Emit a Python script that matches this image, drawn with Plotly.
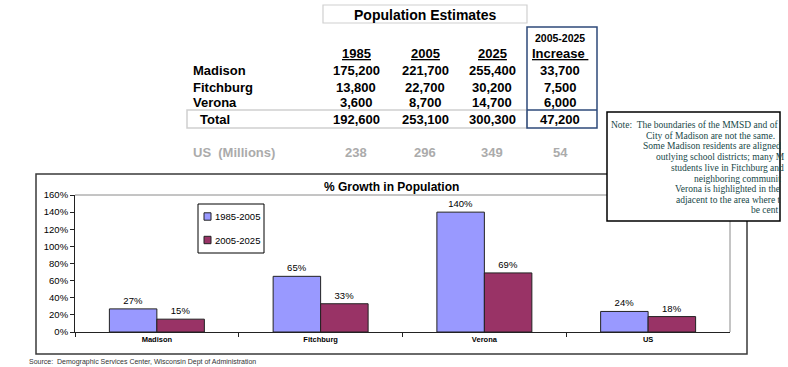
import plotly.graph_objects as go

W, H = 788, 367


def px(x):
    return x / W


def py(y):
    return 1 - y / H


# ---------------- data ----------------
table_title = "Population Estimates"
years = ["1985", "2005", "2025"]
increase_header = ["2005-2025", "Increase"]
places = ["Madison", "Fitchburg", "Verona"]
pop_1985 = [175200, 13800, 3600]
pop_2005 = [221700, 22700, 8700]
pop_2025 = [255400, 30200, 14700]
pop_increase = [33700, 7500, 6000]
total_label = "Total"
totals = [192600, 253100, 300300, 47200]
us_label = "US  (Millions)"
us_values = [238, 296, 349, 54]

chart_title = "% Growth in Population"
categories = ["Madison", "Fitchburg", "Verona", "US"]
series_names = ["1985-2005", "2005-2025"]
growth_1985_2005 = [27, 65, 140, 24]
growth_2005_2025 = [15, 33, 69, 18]
y_ticks = [0, 20, 40, 60, 80, 100, 120, 140, 160]
y_tick_labels = [f"{v}%" for v in y_ticks]

source_text = "Source:  Demographic Services Center, Wisconsin Dept of Administration"
note_lines = [
    "Note:  The boundaries of the MMSD and of",
    "City of Madison are not the same.",
    "Some Madison residents are aligned",
    "outlying school districts; many M",
    "students live in Fitchburg and",
    "neighboring communit",
    "Verona is highlighted in the",
    "adjacent to the area where t",
    "be cent",
]

# ---------------- style ----------------
SANS = "Arial, Liberation Sans, sans-serif"
SERIF = "Times New Roman, Liberation Serif, serif"
BLUE = "#9999FF"
MAROON = "#993366"
NOTE_COLOR = "#174848"

fig = go.Figure()
for vals, name, col in [(growth_1985_2005, series_names[0], BLUE),
                        (growth_2005_2025, series_names[1], MAROON)]:
    fig.add_trace(go.Bar(
        x=categories, y=vals, name=name,
        marker=dict(color=col, line=dict(color="#222222", width=1)),
        text=[f"{v}%" for v in vals], textposition="outside", cliponaxis=False,
        textfont=dict(family=SANS, size=9.5, color="black"), showlegend=False,
    ))

annotations = []
shapes = []


def text(x, y, s, size=13, bold=True, color="black", anchor="center", family=SANS):
    annotations.append(dict(
        xref="paper", yref="paper", x=px(x), y=py(y), text=s, showarrow=False,
        xanchor=anchor, yanchor="middle",
        font=dict(family=family, size=size, color=color, weight="bold" if bold else "normal"),
    ))


def rect(x0, y0, x1, y1, color, width=1, fill=None, layer="below"):
    shapes.append(dict(type="rect", xref="paper", yref="paper",
                       x0=px(x0), y0=py(y0), x1=px(x1), y1=py(y1),
                       line=dict(color=color, width=width),
                       fillcolor=fill if fill else "rgba(0,0,0,0)", layer=layer))


def line(x0, y0, x1, y1, color, width=1, layer="below"):
    shapes.append(dict(type="line", xref="paper", yref="paper",
                       x0=px(x0), y0=py(y0), x1=px(x1), y1=py(y1),
                       line=dict(color=color, width=width), layer=layer))


# ---------------- table ----------------
col_x = [356, 425, 492, 560]
row_y = [70.5, 87, 102]
total_y = 119.5
us_y = 152

rect(323, 5, 527, 23, "#d0d0d0", 1.2)
text(425, 15, table_title, size=14)

for cx, yr in zip(col_x[:3], years):
    text(cx, 54, f"<u>{yr}</u>", size=13)
text(col_x[3], 38, increase_header[0], size=10.5)
text(col_x[3], 54, f"<u>{increase_header[1]} </u>", size=13)

for i, place in enumerate(places):
    text(191, row_y[i], place, anchor="left")
    vals = [pop_1985[i], pop_2005[i], pop_2025[i], pop_increase[i]]
    for cx, v in zip(col_x, vals):
        text(cx, row_y[i], f"{v:,}")

rect(187, 110, 527, 128, "#cfcfcf", 1.5)
text(198, total_y, total_label, anchor="left")
for cx, v in zip(col_x, totals):
    text(cx, total_y, f"{v:,}")

rect(527, 27, 597, 128, "#2e4a7a", 1.5)
line(527, 110, 597, 110, "#2e4a7a", 1.5)

GRAY = "#ababab"
text(191, us_y, us_label, color=GRAY, anchor="left")
for cx, v in zip(col_x, us_values):
    text(cx, us_y, f"{v:,}", color=GRAY)

# ---------------- chart frame ----------------
rect(36, 174, 747, 354, "#3a3a3a", 1.5)
line(75, 195, 730, 195, "#8a8a8a", 1)
line(730, 195, 730, 332, "#8a8a8a", 1)
text(391, 187, chart_title, size=12)

# manual legend
rect(198, 204, 264, 253, "black", 1)
for yy, name, col in [(216.5, series_names[0], BLUE), (240, series_names[1], MAROON)]:
    rect(204, yy - 3.7, 211, yy + 3.7, "#222222", 1, fill=col)
    text(213, yy, name, size=9.5, bold=False, anchor="left")

text(27, 362, source_text, size=7, bold=False, color="#333333", anchor="left")

# note box
rect(607, 112, 780, 221, "black", 1.5, fill="white", layer="above")
note_pos = [(609, 125), (644, 135.5), (641, 146), (654, 157), (669, 167.5),
            (692, 178.5), (673, 189), (674, 199.5), (749, 210)]
for (nx, ny), s in zip(note_pos, note_lines):
    text(nx, ny, s, size=9.5, bold=False, color=NOTE_COLOR, anchor="left", family=SERIF)

fig.update_layout(
    width=W, height=H, margin=dict(l=0, r=0, t=0, b=0),
    paper_bgcolor="white", plot_bgcolor="white",
    barmode="group", bargap=0.42, bargroupgap=0,
    annotations=annotations, shapes=shapes, showlegend=False,
    xaxis=dict(domain=[px(75), px(730)], type="category", range=[-0.5, 3.5],
               showline=True, linecolor="#222222", linewidth=1,
               ticks="outside", tickson="boundaries", ticklen=4, tickcolor="#222222",
               tickfont=dict(family=SANS, size=7.5, color="black", weight="bold"),
               showgrid=False, zeroline=False, automargin=False),
    yaxis=dict(domain=[py(332), py(195)], range=[0, 160],
               tickmode="array", tickvals=y_ticks, ticktext=y_tick_labels,
               showline=True, linecolor="#222222", linewidth=1,
               ticks="outside", ticklen=4, tickcolor="#222222",
               tickfont=dict(family=SANS, size=9.5, color="black"),
               showgrid=False, zeroline=False, automargin=False),
)

fig.write_html(
    "out.html",
    config={"displayModeBar": False},
    post_script="document.body.style.margin='0';document.body.style.overflow='hidden';",
)
